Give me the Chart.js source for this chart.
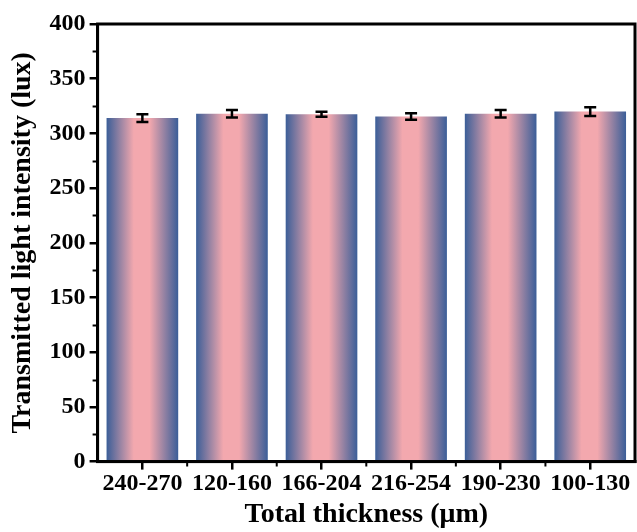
<!DOCTYPE html>
<html>
<head>
<meta charset="utf-8">
<script src="https://cdn.jsdelivr.net/npm/chart.js@4"></script>
<style>
  html, body { margin: 0; padding: 0; background: #fff; }
  #wrap { width: 637px; height: 532px; }
</style>
</head>
<body>
<div id="wrap"><canvas id="chart"></canvas></div>
<script>
// data
const categories = ['240-270', '120-160', '166-204', '216-254', '190-230', '100-130'];
const intensity  = [314, 318, 317.5, 315.5, 318, 320];
const errors     = [3.5, 3.5, 2.2, 3, 3.5, 4];
const yMinorTicks = [25, 75, 125, 175, 225, 275, 325, 375];

const BLUE = '#3b5e98';
const PINK = '#f3a8ae';
const FONT = "'Liberation Serif', 'Times New Roman', serif";
const BAR_FRACTION = 0.8;

// horizontal blue-pink-blue gradient per bar, placed from the x scale
function barGradient(ctx) {
  const chart = ctx.chart;
  const x = chart.scales && chart.scales.x;
  if (!x || ctx.dataIndex === undefined) return BLUE;
  const cx = x.getPixelForValue(ctx.dataIndex);
  const half = x.width / categories.length * BAR_FRACTION / 2;
  if (!isFinite(cx) || !isFinite(half) || half <= 0) return BLUE; // scales not laid out yet
  const g = chart.ctx.createLinearGradient(cx - half, 0, cx + half, 0);
  g.addColorStop(0, BLUE);
  g.addColorStop(0.38, PINK);
  g.addColorStop(0.6, PINK);
  g.addColorStop(1, BLUE);
  return g;
}

// ─── frame, minor ticks, error bars ──────────────────────────
const extrasPlugin = {
  id: 'extras',
  afterDatasetsDraw(chart) {
    const { ctx, chartArea: a, scales: { x, y } } = chart;
    ctx.save();
    ctx.strokeStyle = '#000';

    // error bars
    ctx.lineWidth = 2.5;
    const meta = chart.getDatasetMeta(0);
    meta.data.forEach((bar, i) => {
      const cx = bar.x;
      const top = y.getPixelForValue(intensity[i] + errors[i]);
      const bot = y.getPixelForValue(intensity[i] - errors[i]);
      ctx.beginPath();
      ctx.moveTo(cx, top); ctx.lineTo(cx, bot);
      ctx.moveTo(cx - 6, top); ctx.lineTo(cx + 6, top);
      ctx.moveTo(cx - 6, bot); ctx.lineTo(cx + 6, bot);
      ctx.stroke();
    });

    // minor ticks
    ctx.lineWidth = 2;
    ctx.beginPath();
    yMinorTicks.forEach(v => {
      const py = Math.round(y.getPixelForValue(v)) + 0.5;
      ctx.moveTo(a.left - 5, py); ctx.lineTo(a.left, py);
    });
    for (let i = 0; i < categories.length - 1; i++) {
      const px = (x.getPixelForValue(i) + x.getPixelForValue(i + 1)) / 2;
      ctx.moveTo(px, a.bottom); ctx.lineTo(px, a.bottom + 5);
    }
    ctx.stroke();

    // box frame
    ctx.lineWidth = 3;
    ctx.strokeRect(a.left, a.top, a.right - a.left, a.bottom - a.top);
    ctx.restore();
  }
};

new Chart(document.getElementById('chart'), {
  type: 'bar',
  data: {
    labels: categories,
    datasets: [{
      label: 'Transmitted light intensity',
      data: intensity,
      backgroundColor: barGradient,
      borderWidth: 0,
      categoryPercentage: BAR_FRACTION,
      barPercentage: 1,
    }]
  },
  options: {
    responsive: true,
    maintainAspectRatio: false,
    animation: false,
    devicePixelRatio: 1,
    layout: { padding: { top: 24, right: 2, left: 6, bottom: 0 } },
    plugins: {
      legend: { display: false },
      tooltip: { enabled: false },
    },
    scales: {
      x: {
        offset: true,
        grid: { offset: false, drawOnChartArea: false, color: '#000', lineWidth: 2.5, tickLength: 8 },
        border: { display: true, color: '#000', width: 3 },
        ticks: { color: '#000', padding: 0, maxRotation: 0, font: { family: FONT, size: 24, weight: 'bold' } },
        title: {
          display: true, text: 'Total thickness (μm)', color: '#000', padding: { top: 0, bottom: 0 },
          font: { family: FONT, size: 28, weight: 'bold' }
        }
      },
      y: {
        min: 0, max: 400,
        grid: { drawOnChartArea: false, color: '#000', lineWidth: 2.5, tickLength: 8 },
        border: { display: true, color: '#000', width: 3 },
        ticks: { stepSize: 50, color: '#000', padding: 4, font: { family: FONT, size: 24, weight: 'bold' } },
        title: {
          display: true, text: 'Transmitted light intensity (lux)', color: '#000', padding: { top: 0, bottom: 6 },
          font: { family: FONT, size: 28, weight: 'bold' }
        }
      }
    }
  },
  plugins: [extrasPlugin]
});
</script>
</body>
</html>
